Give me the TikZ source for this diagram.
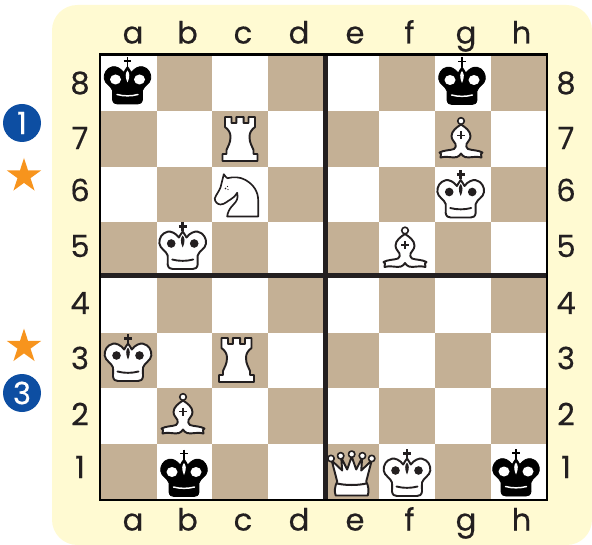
\documentclass[tikz,border=0pt]{standalone}
\usepackage{fontspec}
\setmainfont[FakeBold=0.35]{Poppins}
\usetikzlibrary{shapes.geometric}
\definecolor{panelc}{HTML}{FFFAD2}
\definecolor{darksq}{HTML}{C4B095}
\definecolor{inkc}{HTML}{231F20}
\definecolor{badgec}{HTML}{0D4EA2}
\definecolor{starc}{HTML}{F7941D}
\newcommand{\kingshape}{(0,-14.5) .. controls (1.5,-12.5) and (3,-10) .. (3.8,-8.5)
 .. controls (7,-13) and (12,-15) .. (15,-14.3) .. controls (21,-13) and (23.8,-7.5) .. (23.3,-2.5)
 .. controls (22.7,3) and (16.5,4.5) .. (15,9.5) .. controls (14.3,12) and (15.5,15) .. (15,18.5)
 .. controls (14.5,22) and (12.5,23) .. (10,23) -- (-10,23)
 .. controls (-12.5,23) and (-14.5,22) .. (-15,18.5) .. controls (-15.5,15) and (-14.3,12) .. (-15,9.5)
 .. controls (-16.5,4.5) and (-22.7,3) .. (-23.3,-2.5) .. controls (-23.8,-7.5) and (-21,-13) .. (-15,-14.3)
 .. controls (-12,-15) and (-7,-13) .. (-3.8,-8.5) .. controls (-3,-10) and (-1.5,-12.5) .. (0,-14.5) -- cycle}
\newcommand{\kingdrop}{(0,-10.5) .. controls (2,-8) and (2.8,-5) .. (0,1.5) .. controls (-2.8,-5) and (-2,-8) .. (0,-10.5) -- cycle}
\newcommand{\kingsmile}{(-10.5,13.5) .. controls (-4,15.3) and (4,15.3) .. (10.5,13.5)}
\newcommand{\rookshape}{(-3.7,-22) -- (3.7,-22) -- (3.7,-16) -- (8.5,-16) -- (8.5,-22) -- (15,-22) -- (15,-12)
 .. controls (11,-9) and (9.5,-6) .. (9.5,-2) .. controls (9.5,4) and (12,7) .. (13.5,11) -- (13.5,15) -- (17.5,15) -- (17.5,22)
 -- (-17.5,22) -- (-17.5,15) -- (-13.5,15) -- (-13.5,11) .. controls (-12,7) and (-9.5,4) .. (-9.5,-2)
 .. controls (-9.5,-6) and (-11,-9) .. (-15,-12) -- (-15,-22) -- (-8.5,-22) -- (-8.5,-16) -- (-3.7,-16) -- cycle}
\newcommand{\knightshape}{(-12.7,-21.3) .. controls (-11.5,-19.5) and (-10.5,-18) .. (-9,-17.3)
 .. controls (-3,-19) and (4,-18.5) .. (9,-15.5) .. controls (17,-11) and (21.7,-4) .. (21.7,5) -- (21.7,21)
 -- (-9.3,21) .. controls (-9,17) and (-7,13) .. (-3,9) .. controls (0,6) and (2,3) .. (0.7,-2.7)
 .. controls (-1,0) and (-3,2.5) .. (-6,4) .. controls (-9,5.5) and (-12,9) .. (-16,9)
 .. controls (-19,9) and (-22,6) .. (-21.7,3) .. controls (-21,0) and (-17.5,-4) .. (-16,-8)
 .. controls (-15,-12) and (-14,-16) .. (-12.7,-21.3) -- cycle}
\newcommand{\bishopshape}{(0,-14.5) .. controls (4,-12) and (9.5,-8) .. (9.5,-3) .. controls (9.5,1) and (6.5,2.5) .. (5.5,5)
 .. controls (4.8,7) and (5.5,9) .. (7,10) .. controls (11,11.5) and (17,11) .. (21.5,13.5) -- (20,15) -- (20.5,18.5)
 .. controls (15,16.5) and (8,19.5) .. (4,18) .. controls (2,17.3) and (1,16) .. (0,14.5)
 .. controls (-1,16) and (-2,17.3) .. (-4,18) .. controls (-8,19.5) and (-15,16.5) .. (-20.5,18.5) -- (-20,15) -- (-21.5,13.5)
 .. controls (-17,11) and (-11,11.5) .. (-7,10) .. controls (-5.5,9) and (-4.8,7) .. (-5.5,5)
 .. controls (-6.5,2.5) and (-9.5,1) .. (-9.5,-3) .. controls (-9.5,-8) and (-4,-12) .. (0,-14.5) -- cycle}
\tikzset{
  x=0.75pt, y=-0.75pt,
  lightsq/.style={fill=white},
  dsq/.style={fill=darksq},
  ink/.style={draw=inkc, line width=1.45pt, line join=round, fill=white},
  blk/.style={fill=black, draw=black, line width=0.6pt, line join=round},
  coordlabel/.style={font=\fontsize{23}{23}\selectfont, text=inkc, inner sep=0pt},
  filelabel/.style={coordlabel, anchor=base},
  badge/.style={circle, fill=badgec, text=white, minimum size=28.5pt, inner sep=0pt, font=\fontsize{23}{23}\selectfont},
  starmark/.style={star, star points=5, star point ratio=2.618, fill=starc, inner sep=0pt, minimum size=27pt},
  wking/.pic={
    \draw[ink] \kingshape;
    \draw[inkc, line width=2.1pt] (0,-24) -- (0,-15) (-3.8,-19.7) -- (3.8,-19.7);
    \fill[inkc] \kingdrop;
    \fill[inkc] (-11.5,-2.5) circle (4.3) (11.5,-2.5) circle (4.3);
    \draw[inkc, line width=1.4pt, line cap=round] \kingsmile;
  },
  bking/.pic={
    \draw[blk] \kingshape;
    \draw[black, line width=1.1pt] (0,-24) -- (0,-14) (-3.8,-20) -- (3.8,-20);
    \fill[white] \kingdrop;
    \fill[white] (-12,-1.5) ellipse (5.5 and 5) (12,-1.5) ellipse (5.5 and 5);
    \draw[white, line width=1.1pt, line cap=round] \kingsmile;
  },
  wqueen/.pic={
    \draw[ink] (-16,22) .. controls (-17.5,18) and (-17,13) .. (-14.5,8)
      -- (-20,-13) -- (-9.5,-3) -- (-10.5,-16) -- (-4.5,-4) -- (0,-17) -- (4.5,-4) -- (10.5,-16) -- (9.5,-3) -- (20,-13) -- (14.5,8)
      .. controls (17,13) and (17.5,18) .. (16,22) -- cycle;
    \draw[inkc, line width=1.5pt] (-14.5,10) .. controls (-6,12) and (6,12) .. (14.5,10);
    \draw[ink, line width=1.2pt] (-20.7,-15) circle (3.2) (-11,-17.7) circle (3.2) (0,-19.3) circle (3.2) (10.7,-17.7) circle (3.2) (20,-15) circle (3.2);
  },
  wrook/.pic={ \draw[ink] \rookshape; },
  wknight/.pic={
    \draw[ink, line width=1.25pt] \knightshape;
    \fill[inkc] (-11,-7) circle (0.9) (-9,-9) circle (0.7) (-8.5,-6) circle (0.7);
  },
  wbishop/.pic={
    \draw[ink] \bishopshape;
    \draw[ink, line width=1.2pt] (0,-18) circle (3.3);
    \draw[inkc, line width=1.4pt] (-4,-3.5) -- (4,-3.5) (0,-7.5) -- (0,0.5);
  }
}
\begin{document}
\begin{tikzpicture}
\useasboundingbox (0,0) rectangle (592,545);
% panel
\fill[panelc, rounded corners=19pt] (52,5) rectangle (592,545);
% squares
\fill[lightsq] (100,54.5) rectangle (547,500);
\foreach \i in {0,...,7} \foreach \j in {0,...,7} {
  \pgfmathtruncatemacro{\odd}{mod(\i+\j,2)}
  \ifnum\odd=1
    \fill[dsq] ({100.9+55.7*\i},{55.6+55.47*\j}) rectangle ({100.9+55.7*(\i+1)},{55.6+55.47*(\j+1)});
  \fi
}
% dividers and frame
\fill[inkc] (100,273) rectangle (547,277.6);
\fill[inkc] (323,54.5) rectangle (328,500);
\draw[black, line width=2.2pt] (100,54.5) rectangle (547,500);
% pieces
\pic at (127.5,81) {bking};
\pic at (462,81.5) {bking};
\pic at (184,473.5) {bking};
\pic at (516,473) {bking};
\pic at (182.7,246) {wking};
\pic at (460.7,194.5) {wking};
\pic at (128,358) {wking};
\pic at (407,473) {wking};
\pic at (351.7,473.5) {wqueen};
\pic at (240,139) {wrook};
\pic at (236.5,360) {wrook};
\pic at (236.5,195.5) {wknight};
\pic at (461,139) {wbishop};
\pic at (405,248.5) {wbishop};
\pic at (183,415) {wbishop};
% file labels
\foreach \l/\x in {a/133,b/187.5,c/243,d/299,e/355,f/409.5,g/466,h/521.5} {
  \node[filelabel] (top\l) at (\x,43.5) {\l};
  \node[filelabel] (bot\l) at (\x,530.5) {\l};
}
% rank labels
\foreach \n/\y in {8/83,7/138,6/190,5/246,4/303,3/358,2/414,1/467} {
  \node[coordlabel] (left\n) at (80,\y) {\n};
  \node[coordlabel] (right\n) at (566,\y) {\n};
}
% side marks
\node[badge] (badgeone) at (22,123) {1};
\node[badge] (badgethree) at (22,393) {3};
\node[starmark] (starone) at (24,176) {};
\node[starmark] (startwo) at (24,346.5) {};
\end{tikzpicture}
\end{document}
